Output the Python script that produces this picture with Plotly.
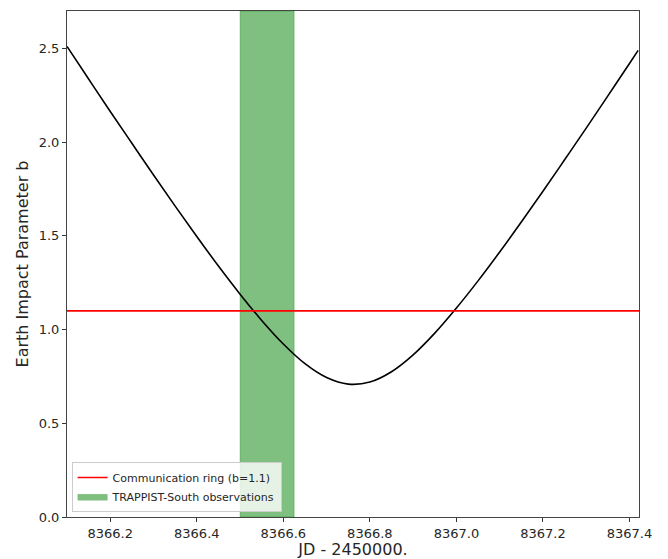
import plotly.graph_objects as go

# Curve of Earth impact parameter b versus JD - 2450000
jd = [8366.10, 8366.15, 8366.20, 8366.25, 8366.30, 8366.35, 8366.40, 8366.45,
      8366.50, 8366.55, 8366.60, 8366.65, 8366.70, 8366.75, 8366.80, 8366.85,
      8366.90, 8366.95, 8367.00, 8367.05, 8367.10, 8367.15, 8367.20, 8367.25,
      8367.30, 8367.35, 8367.40, 8367.42]
impact_b = [2.511, 2.337, 2.164, 1.994, 1.825, 1.659, 1.497, 1.339,
            1.189, 1.049, 0.923, 0.818, 0.744, 0.709, 0.720, 0.775,
            0.865, 0.981, 1.115, 1.260, 1.414, 1.574, 1.738, 1.906,
            2.075, 2.247, 2.420, 2.490]

# Communication ring
ring_b = 1.1
ring_label = "Communication ring (b=1.1)"

# TRAPPIST-South observation window
obs_start = 8366.50
obs_end = 8366.625
obs_label = "TRAPPIST-South observations"

x_range = [8366.10, 8367.422]
y_range = [0.0, 2.7]
x_ticks = [8366.2, 8366.4, 8366.6, 8366.8, 8367.0, 8367.2, 8367.4]
y_ticks = [0.0, 0.5, 1.0, 1.5, 2.0, 2.5]

FONT = "DejaVu Sans"

fig = go.Figure()

fig.add_trace(go.Scatter(
    x=[obs_start, obs_end, obs_end, obs_start, obs_start],
    y=[y_range[0], y_range[0], y_range[1], y_range[1], y_range[0]],
    fill="toself", mode="lines",
    fillcolor="rgba(0,128,0,0.5)",
    line=dict(color="rgba(0,128,0,0.3)", width=1),
    name=obs_label, legendrank=2, hoverinfo="skip",
))

fig.add_trace(go.Scatter(
    x=jd, y=impact_b, mode="lines",
    line=dict(color="black", width=1.6, shape="spline", smoothing=1.0),
    showlegend=False,
))

fig.add_trace(go.Scatter(
    x=x_range, y=[ring_b, ring_b], mode="lines",
    line=dict(color="#ff0000", width=1.6),
    name=ring_label, legendrank=1,
))

axis_common = dict(
    showline=True, linecolor="#444444", linewidth=1, mirror=True,
    ticks="outside", ticklen=4, tickcolor="#333333", tickwidth=1,
    showgrid=False, zeroline=False, automargin=False,
    tickfont=dict(family=FONT, size=13, color="#262626"),
)

fig.update_xaxes(
    range=x_range, tickvals=x_ticks,
    ticktext=[f"{v:.1f}" for v in x_ticks],
    title=dict(text="JD - 2450000.", font=dict(family=FONT, size=16, color="#262626"),
               standoff=4),
    **axis_common,
)
fig.update_yaxes(
    range=y_range, tickvals=y_ticks,
    ticktext=[f"{v:.1f}" for v in y_ticks],
    title=dict(text="Earth Impact Parameter b",
               font=dict(family=FONT, size=16, color="#262626"), standoff=6),
    **axis_common,
)

fig.update_layout(
    width=660, height=551,
    margin=dict(l=59, r=29, t=3, b=42),
    paper_bgcolor="white", plot_bgcolor="white",
    font=dict(family=FONT, size=11, color="#262626"),
    legend=dict(
        x=0.008, y=0.01, xanchor="left", yanchor="bottom",
        bgcolor="rgba(255,255,255,0.8)", bordercolor="#cccccc", borderwidth=1,
        font=dict(family=FONT, size=11, color="#262626"),
        itemwidth=30, tracegroupgap=0,
    ),
)

fig.write_html("out.html")
